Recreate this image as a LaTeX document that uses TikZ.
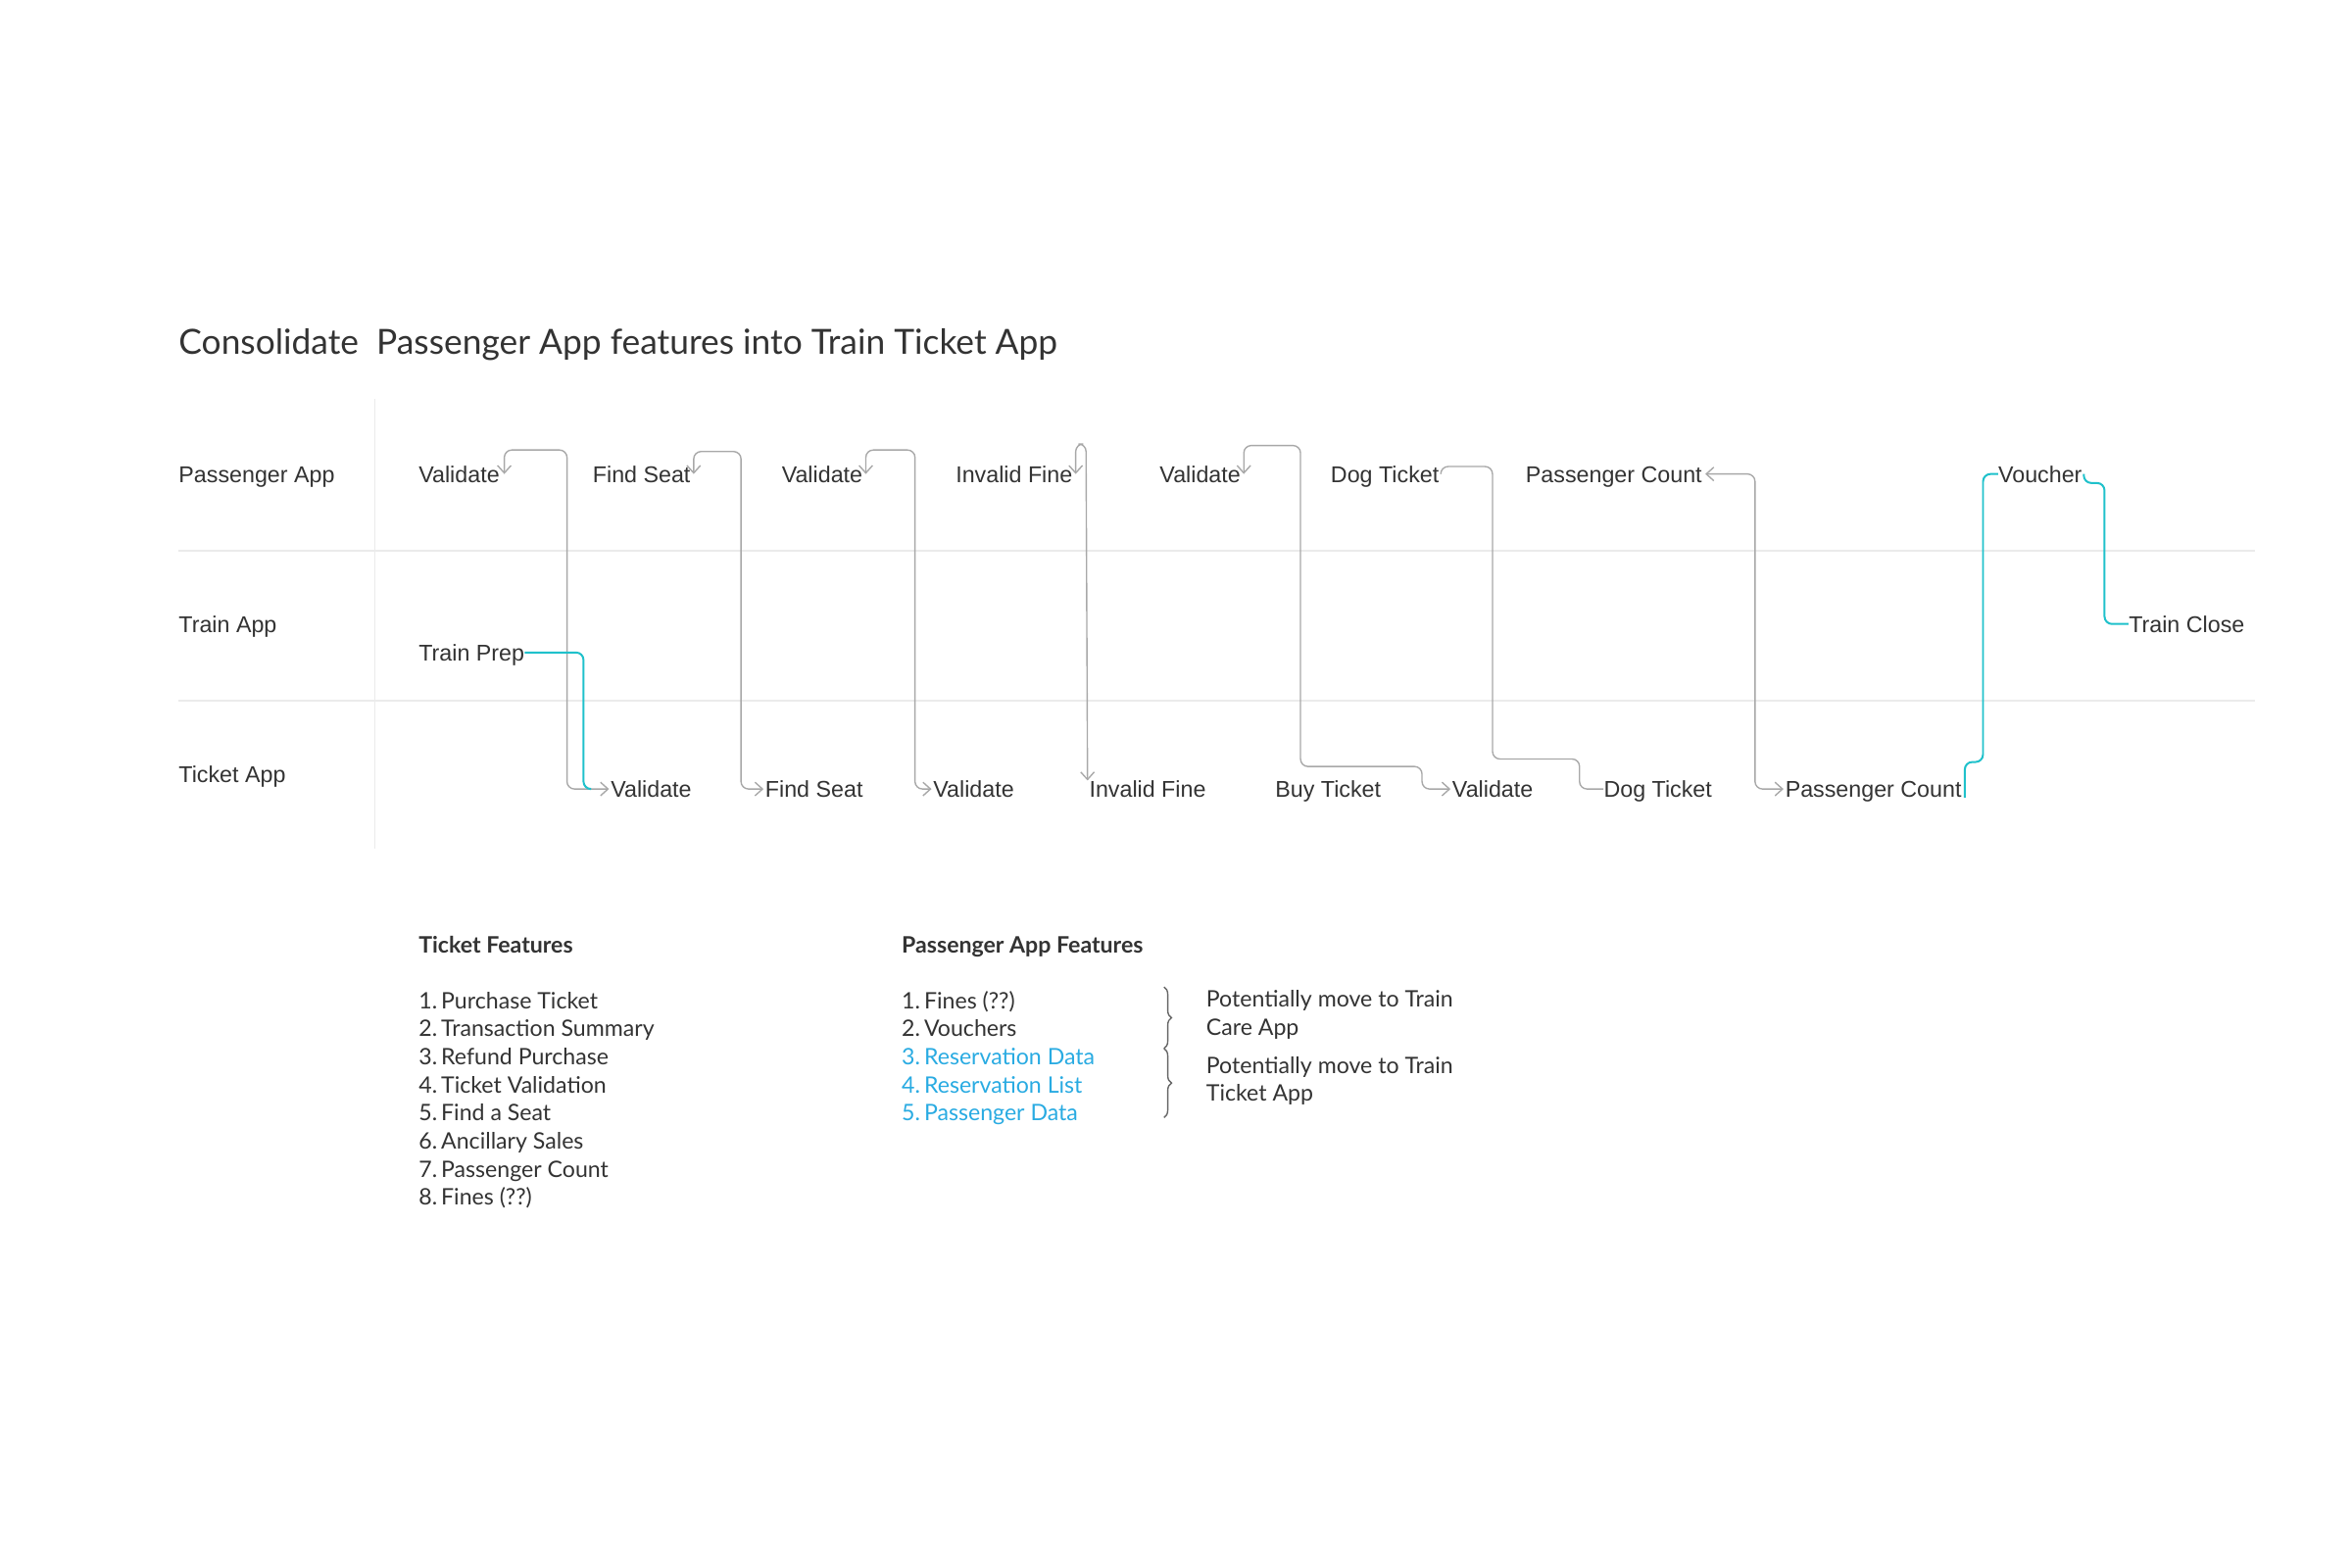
\documentclass[tikz,border=0pt]{standalone}
\usepackage{fontspec}
\setmainfont{Liberation Sans}
\newfontfamily\latofont{Lato}
\usetikzlibrary{arrows.meta,decorations.pathreplacing}

\definecolor{txt}{HTML}{333333}
\definecolor{flowgray}{HTML}{A8A8A8}
\definecolor{lanecyan}{HTML}{1FC1CB}
\definecolor{listblue}{HTML}{29ABE2}
\definecolor{rulegray}{HTML}{EBEBEB}
\definecolor{bracegray}{HTML}{666666}

\tikzset{
  lbl/.style={font=\fontsize{15.2}{18}\selectfont, text=txt, inner sep=0pt,
    text height=10.9pt, text depth=0pt, anchor=west},
  item/.style={lbl, font=\latofont\fontsize{15.1}{18}\selectfont},
  head/.style={lbl, font=\latofont\bfseries\fontsize{15.1}{18}\selectfont},
  note/.style={font=\latofont\fontsize{15.1}{18.7}\selectfont, text=txt,
    inner sep=0pt, align=left, anchor=north west},
  flow/.style={draw=flowgray, line width=0.9pt, rounded corners=5pt},
  link/.style={draw=lanecyan, line width=1.3pt, rounded corners=5pt},
  lane/.style={draw=rulegray, line width=1pt},
  >={Straight Barb[length=5pt,width=9pt]}
}

\begin{document}
\begin{tikzpicture}[x=1pt,y=-1pt]
  \useasboundingbox[fill=white] (0,0) rectangle (1568,1045.3);

  % Title and lanes
  \node[lbl, font=\latofont\fontsize{23.1}{28}\selectfont, text height=16.6pt] (title)
    at (119,228) {Consolidate\ \ Passenger App features into Train Ticket App};
  \draw[lane] (250,266) -- (250,566);
  \draw[lane] (119,367) -- (1503,367);
  \draw[lane] (119,467) -- (1503,467);
  \node[lbl] (LP) at (119,316) {Passenger App};
  \node[lbl] (LR) at (119,416) {Train App};
  \node[lbl] (LT) at (119,516) {Ticket App};

  % Define nodes
  \node[lbl] (PV1) at (279,316)  {Validate};
  \node[lbl] (PF)  at (395,316)  {Find Seat};
  \node[lbl] (PV2) at (521,316)  {Validate};
  \node[lbl] (PI)  at (637,316)  {Invalid Fine};
  \node[lbl] (PV3) at (773,316)  {Validate};
  \node[lbl] (PD)  at (887,316)  {Dog Ticket};
  \node[lbl] (PC)  at (1017,316) {Passenger Count};
  \node[lbl] (PVo) at (1332,316) {Voucher};

  \node[lbl] (RP) at (279,435)  {Train Prep};
  \node[lbl] (RC) at (1419,416) {Train Close};

  \node[lbl] (TV1) at (407,526)  {Validate};
  \node[lbl] (TF)  at (510,526)  {Find Seat};
  \node[lbl] (TV2) at (622,526)  {Validate};
  \node[lbl] (TI)  at (726,526)  {Invalid Fine};
  \node[lbl] (TB)  at (850,526)  {Buy Ticket};
  \node[lbl] (TV3) at (968,526)  {Validate};
  \node[lbl] (TD)  at (1069,526) {Dog Ticket};
  \node[lbl] (TC)  at (1190,526) {Passenger Count};

  % Connect the nodes
  \draw[flow,<->] ([xshift=3pt]PV1.east) |- (378,300) |- ([xshift=-1pt]TV1.west);
  \draw[flow,<->] ([xshift=2pt]PF.east)  |- (494,301) |- ([xshift=-1pt]TF.west);
  \draw[flow,<->] ([xshift=2pt]PV2.east) |- (610,300) |- ([xshift=-1pt]TV2.west);
  \draw[flow,<->] ([xshift=2pt]PI.east)  |- (724,296) -- ([xshift=-1pt]TI.north west);
  \draw[flow,<->] ([xshift=2pt]PV3.east) |- (867,297) |- (948,511) |- ([xshift=-1pt]TV3.west);
  \draw[flow] ([xshift=1pt]PD.east) |- (995,311) |- (1053,506) |- (TD.west);
  \draw[flow,<->] ([xshift=2pt]PC.east) -| (1170,526) -- ([xshift=-1pt]TC.west);

  \draw[link] (RP.east) -| (389,526) -- ([xshift=-14pt]TV1.west);
  \draw[link] ([xshift=2pt]TC.south east) |- (1322,508) |- (PVo.west);
  \draw[link] ([xshift=1pt]PVo.east) |- (1403,322) |- (RC.west);

  % Feature lists
  \node[head] (tfh) at (279,630) {Ticket Features};
  \foreach \txt [count=\i] in {Purchase Ticket, Transaction Summary, Refund Purchase,
      Ticket Validation, Find a Seat, Ancillary Sales, Passenger Count, Fines (??)}
    \node[item] (tf\i) at (279, 648.3+18.7*\i) {\i.\hspace{2.6pt}\txt};

  \node[head] (pfh) at (601,630) {Passenger App Features};
  \foreach \txt/\col [count=\i] in {Fines (??)/txt, Vouchers/txt, Reservation Data/listblue,
      Reservation List/listblue, Passenger Data/listblue}
    \node[item, text=\col] (pf\i) at (601, 648.3+18.7*\i) {\i.\hspace{2.6pt}\txt};

  \draw[bracegray, line width=0.9pt, decorate, decoration={brace, amplitude=5pt}] (776,658) -- (776,699);
  \draw[bracegray, line width=0.9pt, decorate, decoration={brace, amplitude=5pt}] (776,699) -- (776,745);
  \node[note] (n1) at (804,660.2) {Potentially move to Train\\Care App};
  \node[note] (n2) at (804,704.2) {Potentially move to Train\\Ticket App};
\end{tikzpicture}
\end{document}
